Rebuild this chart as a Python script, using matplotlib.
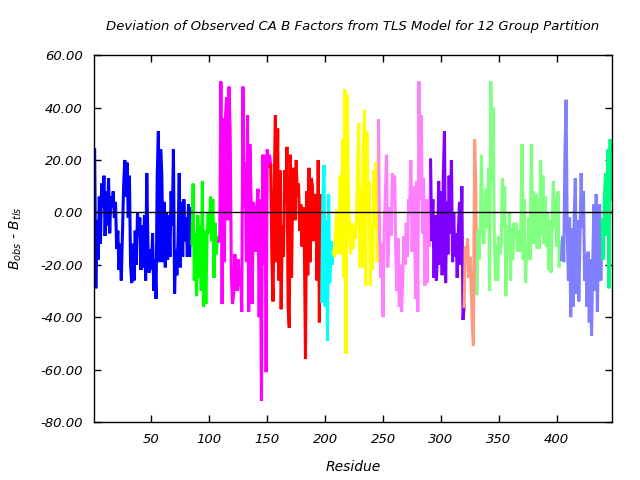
import numpy as np
import matplotlib
matplotlib.use("Agg")
import matplotlib.pyplot as plt

# TLS group partition: first residue, colour and per-residue deviation (B_obs - B_tls)
blue_start = 1
blue_vals = [24, -29, -3, -18, 6, -12, 11, 2, 14, -9,
             8, -5, 13, -8, 6, 2, 8, -2, 4, -14,
             -7, -22, -12, -26, -8, 10, 20, 6, 19, -2,
             14, -20, -27, -12, -26, -7, -20, 0, -9, -2,
             -22, -5, -21, -1, -26, 15, -13, -23, -14, -22,
             -8, -30, -18, -33, 14, 31, -19, 24, 14, -19,
             4, -21, 0, -18, -1, -17, 8, -5, 24, -31,
             -14, -24, -10, 15, -21, 4, -17, 5, -11, -2,
             -17, 3, -17, 2, -12]
green_start = 86
green_vals = [11, -26, -8, -32, -1, -25, -5, -30, 12, -36,
              -7, -35, -10, 0, -8, 6, -11, 5, -25, -4,
              -16, -9, -11]
magenta_start = 109
magenta_vals = [-10, 50, -35, 36, -19, 37, 44, -3, 48, 31,
                -24, -35, -31, -16, -22, -30, -18, -28, -22, -38,
                48, 2, 19, -19, 37, -38, 26, 6, -35, 4,
                -2, -15, 2, 9, -40, 5, -72, 22, -20, 22,
                -61, 24, 17, 22, 18]
red_start = 154
red_vals = [-18, -34, 9, 37, -19, 32, -26, 16, -37, -5,
            -17, 16, 3, 25, -36, -44, 22, -25, 12, 17,
            -3, 20, 6, 11, -7, 3, -13, 2, -10, -56,
            8, -24, 17, -19, 13, 10, -11, 5, 7, -26,
            20, -42, 7, -34]
cyan_start = 198
cyan_vals = [5, 18, -36, -3, -49, 7, -27, -11, -20, -15]
yellow_start = 208
yellow_vals = [-17, -7, 1, -16, -5, 14, -16, 28, -25, 47,
               -54, 45, 10, -7, -16, -4, -14, -5, -10, -4,
               17, 34, -21, 10, -21, 24, 39, -28, 31, 0,
               12, -28, -4, -22, 16, -6, 19, -19, 35]
pink_start = 247
pink_vals = [-10, -25, -12, -40, -6, 7, 22, -21, -10, 2,
             -9, 15, 9, 14, -16, -30, -10, -36, -20, -38,
             -25, -9, -20, -4, -17, 5, 3, 20, -15, 1,
             10, -33, 12, -38, 50, 5, 37, -8, 13, -28,
             5, -27, 5, -13, 20]
purple_start = 292
purple_vals = [-11, 5, -25, -1, -26, -16, 12, -20, 8, -24,
               14, 31, -27, 4, -16, 14, -8, 20, -19, 0,
               -17, -8, -25, -7, 4, -20, 10, -41, -36]
salmon_start = 321
salmon_vals = [-13, -18, -10, -25, -17, -26, -43, -51, 28, 12, -31]
lgreen_start = 332
lgreen_vals = [-7, -18, -3, 22,
               -5, -12, -2, 9, -6, 17, -30, 50, 12, 40,
               -8, -26, -12, -26, -9, -16, -12, 13, -5, 10,
               -32, -5, -17, 0, -26, -6, -18, -4, -8, -4,
               -15, -7, -15, -5, 26, -18, 5, -27, -13, -18,
               -2, -18, 26, -12, 8, -12, 7, -14, 5, -14,
               20, -9, 14, -12, 6, -13, 0, -22, -3, -23,
               -5, 12, -6, 6, -13, 8, -21, -11, -18]
slate_start = 405
slate_vals = [-9, -19, 22, 43, -8, -26, -2, -40, -6, -36,
              -1, 13, -31, -3, -34, -10, 15, -6, 8, -26,
              -16, -36, -15, -42, -18, -47, -20, 3, -30, 7,
              -38, -8, 3, -26, -3]
spring_start = 440
spring_vals = [-18, 4, 15, -9, 24, -29, 28, 5]

groups = [
    (blue_start, blue_vals, "#0000ff"),
    (green_start, green_vals, "#00ff00"),
    (magenta_start, magenta_vals, "#ff00ff"),
    (red_start, red_vals, "#ff0000"),
    (cyan_start, cyan_vals, "#00ffff"),
    (yellow_start, yellow_vals, "#ffff00"),
    (pink_start, pink_vals, "#ff80ff"),
    (purple_start, purple_vals, "#8000ff"),
    (salmon_start, salmon_vals, "#ff9980"),
    (lgreen_start, lgreen_vals, "#80ff80"),
    (slate_start, slate_vals, "#8080ff"),
    (spring_start, spring_vals, "#00ff80"),
]

y_ticks = [60, 40, 20, 0, -20, -40, -60, -80]
x_ticks = [50, 100, 150, 200, 250, 300, 350, 400]

fig = plt.figure(figsize=(6.4, 4.8), dpi=100)
ax = fig.add_axes([0.147, 0.121, 0.809, 0.764])

prev = None
for start, vals, color in groups:
    x = list(np.arange(start, start + len(vals)))
    y = list(vals)
    # join to the last point of the previous group so there is no gap
    if prev is not None:
        x = [prev[0]] + x
        y = [prev[1]] + y
    ax.plot(x, y, color=color, lw=2.2, solid_joinstyle="miter")
    prev = (x[-1], y[-1])

ax.axhline(0, color="black", lw=1, zorder=3)

ax.set_xlim(0.5, 447.5)
ax.set_ylim(-80, 60)
ax.set_xticks(x_ticks)
ax.set_yticks(y_ticks)
ax.set_yticklabels([f"{v:.2f}" for v in y_ticks])
ax.tick_params(direction="in", top=True, right=True, length=5, width=1,
               labelsize=9.5, pad=8)
for lab in ax.get_xticklabels() + ax.get_yticklabels():
    lab.set_fontstyle("italic")
for s in ax.spines.values():
    s.set_linewidth(1)

ax.set_title("Deviation of Observed CA B Factors from TLS Model for 12 Group Partition",
             fontsize=9.5, fontstyle="italic", pad=18)
ax.set_xlabel("Residue", fontsize=10, fontstyle="italic", labelpad=10)
ax.set_ylabel(r"$B_{obs}$ - $B_{tls}$", fontsize=10, fontstyle="italic", labelpad=12)

fig.savefig("out.png", dpi=100)
